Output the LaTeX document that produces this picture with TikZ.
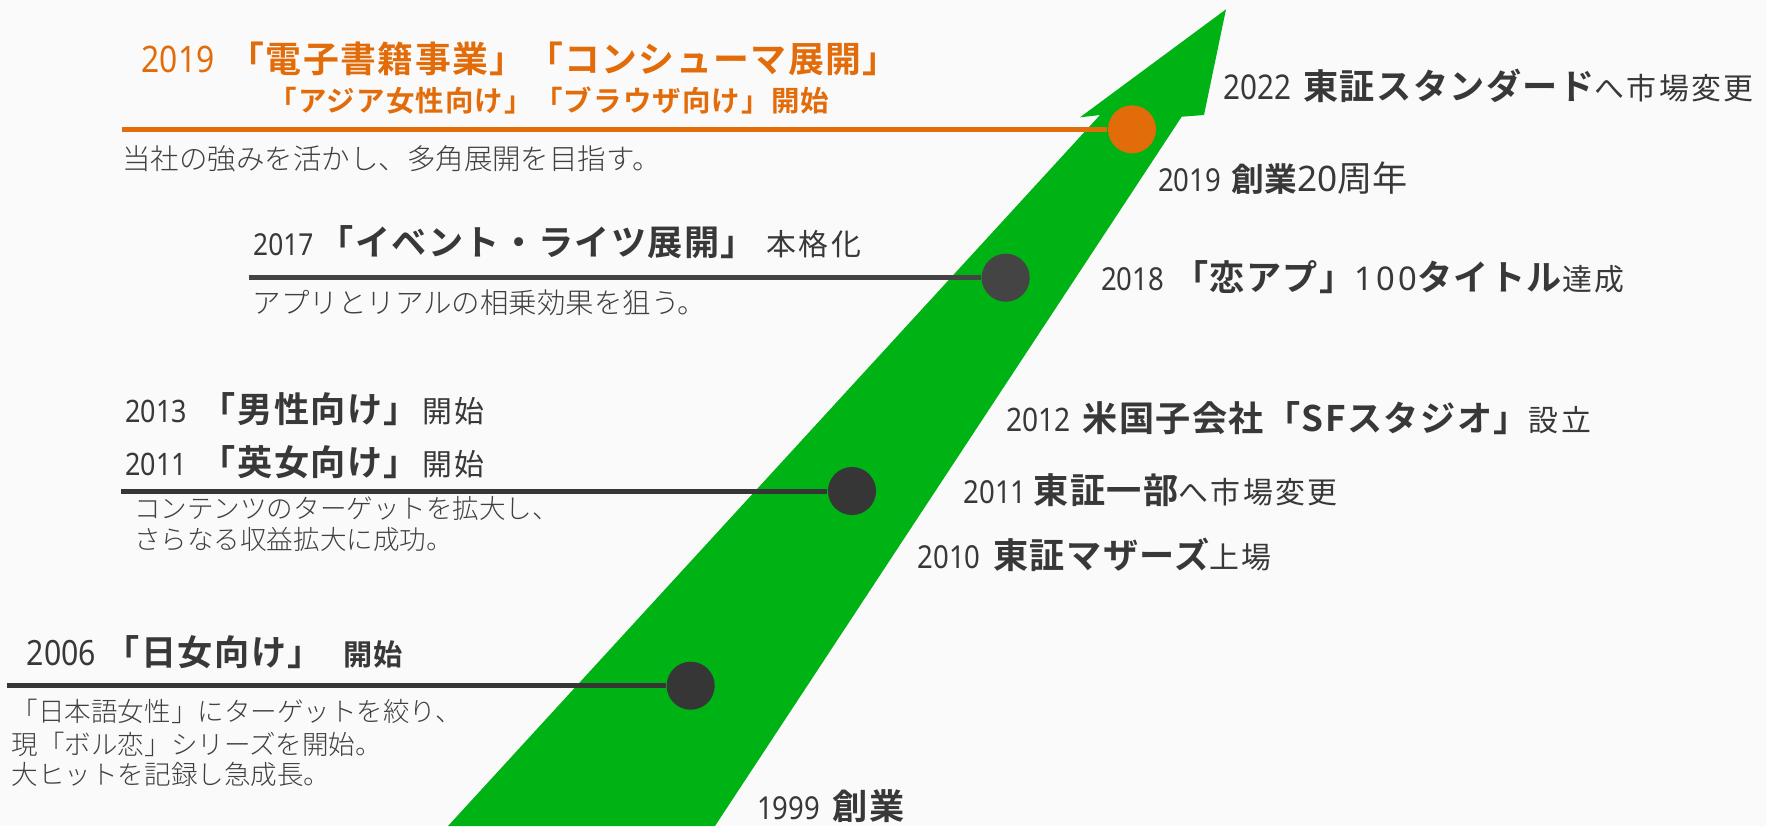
\documentclass[tikz,border=0pt]{standalone}
\usepackage{fontspec}
\setmainfont{Noto Sans CJK JP}
\newfontfamily\numf{Noto Sans}
\newfontfamily\numw{Noto Sans}[LetterSpace=10]
\newfontfamily\boldf{Noto Sans CJK JP Bold}[LetterSpace=4]
\newfontfamily\bff{Noto Sans CJK JP Bold}
\newfontfamily\smallf{Noto Sans CJK JP}[LetterSpace=8]
\IfFontExistsTF{Noto Sans CJK JP Light}
	{\newfontfamily\descf{Noto Sans CJK JP Light}}
	{\newfontfamily\descf{Noto Sans CJK JP}}
\usetikzlibrary{calc,positioning}

\definecolor{bg}{HTML}{FAFAFA}
\definecolor{arrowgreen}{HTML}{00B315}
\definecolor{accent}{HTML}{E36C0A}
\definecolor{ink}{HTML}{383838}
\definecolor{descgray}{HTML}{404040}
\definecolor{dot}{HTML}{363636}
\definecolor{dotlight}{HTML}{444444}

% year digits, bold heading, small tail
\newcommand\yr[2][9pt]{{\numf\fontsize{#1}{#1}\selectfont\scalebox{0.87}[1]{#2}}}
\newcommand\bk[2][10pt]{{\boldf\fontsize{#1}{#1}\selectfont#2}}
\newcommand\sk[2][8.5pt]{{\smallf\fontsize{#1}{#1}\selectfont#2}}

\tikzset{
	lbl/.style={anchor=base west, inner sep=0pt, text=ink},
	desc/.style={lbl, text=descgray, font=\descf\fontsize{8.1pt}{8.1pt}\selectfont},
	descs/.style={lbl, text=descgray, font=\descf\fontsize{7.55pt}{7.55pt}\selectfont},
	dotc/.style={circle, fill=dot, minimum size=0.48cm, inner sep=0pt},
	tl/.style={draw=dot, line width=1.42pt},
}

\begin{document}
\begin{tikzpicture}[x=0.01cm,y=-0.01cm]
	\fill[bg] (0,0) rectangle (1766,826);
	\useasboundingbox (0,0) rectangle (1766,826);

	% the arrow
	\fill[arrowgreen] (448,826) -- (1100,115) -- (1080,117.3) -- (1226,9.3) -- (1204,115) -- (1181.7,116.7) -- (715,826) -- cycle;

	% milestones
	\node[dotc, fill=accent] (c2019) at (1132,129.3) {};
	\node[dotc, fill=dotlight] (c2017) at (1005.7,277.7) {};
	\node[dotc] (c2011) at (852,491) {};
	\node[dotc] (c2006) at (690.7,685.7) {};

	\coordinate (s2019) at (122,129.3);
	\coordinate (s2017) at (249,277.7);
	\coordinate (s2011) at (121,491);
	\coordinate (s2006) at (7,685.7);

	\draw[tl, draw=accent, line width=1.33pt] (s2019) -- (c2019);
	\draw[tl, draw=dotlight] (s2017) -- (c2017);
	\draw[tl] (s2011) -- (c2011);
	\draw[tl] (s2006) -- (c2006);

	% left side
	\node[lbl, text=accent] (h2019) at (141,72.5) {\yr[10.4pt]{2019}\hspace{4pt}\bk[10.2pt]{「電子書籍事業」「コンシューマ展開」}};
	\node[lbl, text=accent] (h2019b) at (268,111.5) {\bk[8.1pt]{「アジア女性向け」「ブラウザ向け」開始}};
	\node[desc] (d2019) at (121.5,169.7) {当社の強みを活かし、多角展開を目指す。};

	\node[lbl] (h2017) at (252.5,255) {\yr[8.6pt]{2017}\hspace{1.5pt}\bk{「イベント・ライツ展開」}\hspace{3pt}\sk{本格化}};
	\node[desc] (d2017) at (252,313) {アプリとリアルの相乗効果を狙う。};

	\node[lbl] (h2013) at (124.5,422.5) {\yr[8.8pt]{2013}\hspace{4pt}\bk{「男性向け」}\hspace{1pt}\sk{開始}};
	\node[lbl] (h2011) at (124.5,475.5) {\yr[8.8pt]{2011}\hspace{4pt}\bk{「英女向け」}\hspace{1pt}\sk{開始}};
	\node[descs] (d2011a) at (133.5,518) {コンテンツのターゲットを拡大し、};
	\node[descs] (d2011b) at (133.5,549.5) {さらなる収益拡大に成功。};

	\node[lbl] (h2006) at (26,665) {\yr[9.9pt]{2006}\hspace{2.5pt}\bk{「日女向け」}\hspace{6pt}{\bff\fontsize{8.3pt}{8.3pt}\selectfont 開始}};
	\node[descs] (d2006a) at (11,721) {「日本語女性」にターゲットを絞り、};
	\node[descs] (d2006b) at (11,754.5) {現「ボル恋」シリーズを開始。};
	\node[descs] (d2006c) at (11,784.5) {大ヒットを記録し急成長。};

	% right side
	\node[lbl] (e2022) at (1222.5,99.3) {\yr[9.7pt]{2022}\hspace{3.5pt}\bk{東証スタンダード}\sk{へ市場変更}};
	\node[lbl] (e2019) at (1157.5,191.7) {\yr{2019}\hspace{3pt}{\bff\fontsize{9.3pt}{9.3pt}\selectfont 創業}{\numf\fontsize{10pt}{10pt}\selectfont 20}{\fontsize{10pt}{10pt}\selectfont 周年}};
	\node[lbl] (e2018) at (1100.5,290) {\yr{2018}\hspace{2.5pt}\bk{「恋アプ」}{\numw\fontsize{9.3pt}{9.3pt}\selectfont 100}\bk{タイトル}\sk{達成}};
	\node[lbl] (e2012) at (1005.5,431.5) {\yr[9.2pt]{2012}\hspace{3.4pt}\bk{米国子会社「SFスタジオ」}\sk{設立}};
	\node[lbl] (e2011) at (963,503) {\yr{2011}\hspace{2pt}\bk{東証一部}\sk{へ市場変更}};
	\node[lbl] (e2010) at (917,568.3) {\yr{2010}\hspace{3.6pt}\bk{東証マザーズ}\sk{上場}};
	\node[lbl] (e1999) at (756.5,819) {\yr{1999}\hspace{3.6pt}\bk{創業}};
\end{tikzpicture}
\end{document}
